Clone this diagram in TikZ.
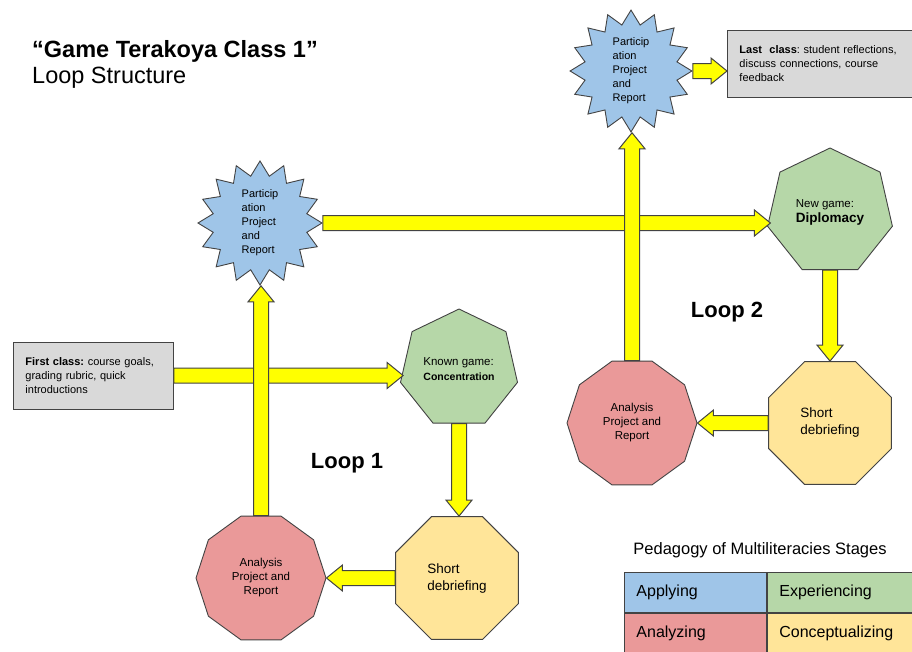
\documentclass[tikz,border=0pt]{standalone}
\usepackage{fontspec}
\setmainfont{Liberation Sans}
\usetikzlibrary{calc,positioning,shapes.geometric}
\frenchspacing

\definecolor{applyblue}{HTML}{9FC5E8}
\definecolor{expgreen}{HTML}{B6D7A8}
\definecolor{anared}{HTML}{EA9999}
\definecolor{conyellow}{HTML}{FFE599}
\definecolor{notegray}{HTML}{D9D9D9}
\definecolor{edgegray}{HTML}{434343}
\definecolor{arrowyellow}{HTML}{FFFF00}

\newcommand{\fs}[2]{\fontsize{#1}{#2}\selectfont}

% block arrow from #1 to #2
\newcommand{\stagearrow}[2]{%
  \path (#1) coordinate (ya) (#2) coordinate (yb);
  \coordinate (yh) at ($(yb)!16pt!(ya)$);
  \draw[arrowbody] ($(ya)!7.5pt!90:(yb)$) -- ($(yh)!7.5pt!90:(yb)$)
    -- ($(yh)!13pt!90:(yb)$) -- (yb) -- ($(yh)!13pt!-90:(yb)$)
    -- ($(yh)!7.5pt!-90:(yb)$) -- ($(ya)!7.5pt!-90:(yb)$) -- cycle;}

\begin{document}
\begin{tikzpicture}[x=1pt, y=-1pt,
    shapeedge/.style={draw=edgegray, line width=0.9pt},
    applystar/.style={shapeedge, fill=applyblue, star, star points=16, star point ratio=1.3,
      inner sep=0pt, align=left, font=\fs{11}{14}},
    exphept/.style={shapeedge, fill=expgreen, regular polygon, regular polygon sides=7,
      inner sep=0pt, align=left, font=\fs{11.5}{15}},
    condeb/.style={shapeedge, fill=conyellow, regular polygon, regular polygon sides=8,
      minimum size=133, inner sep=0pt, align=left, font=\fs{13.5}{17}},
    anadec/.style={shapeedge, fill=anared, regular polygon, regular polygon sides=10,
      minimum size=130, inner sep=0pt, align=center, font=\fs{11.5}{14}},
    notebox/.style={shapeedge, fill=notegray, rectangle, inner xsep=12pt, align=left,
      minimum height=67, font=\fs{11}{14}},
    arrowbody/.style={fill=arrowyellow, draw=edgegray, line width=1pt, line join=miter},
    looplabel/.style={font=\bfseries\fs{22}{26}},
    legendcell/.style={shapeedge, rectangle, minimum height=40, inner xsep=12pt,
      anchor=north west, font=\fs{16}{19}}
  ]
  \useasboundingbox (0,0) rectangle (912,651);
  \fill[white] (0,0) rectangle (912,651);

  % Title
  \node[anchor=base west, inner sep=0pt, font=\bfseries\fs{23.5}{26}] (title) at (32,57) {“Game Terakoya Class 1”};
  \node[anchor=base west, inner sep=0pt, font=\fs{23.5}{26}] (subtitle) at (32,83) {Loop Structure};

  % Notes
  \node[notebox, text width=136, anchor=west] (first) at (13,375.5)
    {\textbf{First class:} course goals,\\grading rubric, quick\\introductions};
  \node[notebox, text width=164, anchor=west] (last) at (727,63.5)
    {\textbf{Last\ \ class}: student reflections,\\discuss connections, course\\feedback};

  % Loop 1
  \node[exphept, minimum size=120] (known) at (459,369)
    {Known game:\\{\bfseries\fs{10.5}{15}Concentration}};
  \node[condeb] (deb1) at (457,578) {Short\\debriefing};
  \node[anadec] (ana1) at (261,578) {Analysis\\Project and\\Report};
  \node[applystar, minimum size=124] (star1) at (260,223) {Particip\\ation\\Project\\and\\Report};
  \node[looplabel] (loop1) at (347,463) {Loop 1};

  % Loop 2
  \node[exphept, minimum size=128] (new) at (830,212)
    {New game:\\{\bfseries\fs{13.5}{16}Diplomacy}};
  \node[condeb] (deb2) at (830,423) {Short\\debriefing};
  \node[anadec] (ana2) at (632,423) {Analysis\\Project and\\Report};
  \node[applystar, minimum size=120] (star2) at (631,71) {Particip\\ation\\Project\\and\\Report};
  \node[looplabel] (loop2) at (727,312) {Loop 2};

  % Arrows
  \stagearrow{first.east}{first.east -| known.180}
  \stagearrow{known.south}{known.south |- deb1.north}
  \stagearrow{deb1.west}{ana1.east}
  \stagearrow{ana1.north}{ana1.north |- star1.south}
  \stagearrow{star1.east}{star1.east -| new.180}
  \stagearrow{new.south}{new.south |- deb2.north}
  \stagearrow{deb2.west}{ana2.east}
  \stagearrow{ana2.north}{ana2.north |- star2.south}
  \stagearrow{star2.east}{star2.east -| last.west}

  % Legend
  \node[font=\fs{16.5}{20}] (legendtitle) at (760,550) {Pedagogy of Multiliteracies Stages};
  \node[legendcell, fill=applyblue, text width=118] (applying) at (624,572) {Applying};
  \node[legendcell, fill=expgreen, text width=124] (experiencing) at (applying.north east) {Experiencing};
  \node[legendcell, fill=anared, text width=118] (analyzing) at (applying.south west) {Analyzing};
  \node[legendcell, fill=conyellow, text width=124] (conceptualizing) at (applying.south east) {Conceptualizing};
\end{tikzpicture}
\end{document}
